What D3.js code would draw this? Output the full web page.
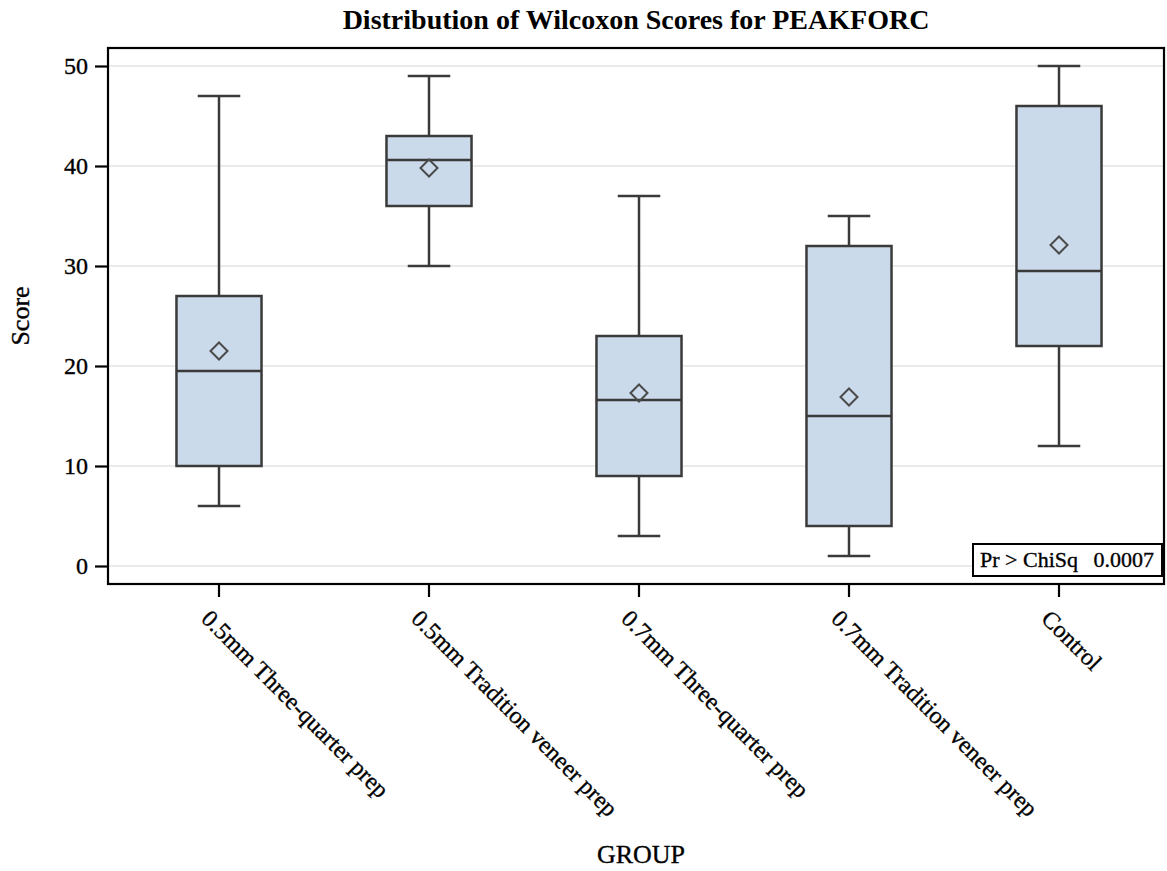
<!DOCTYPE html>
<html>
<head>
<meta charset="utf-8">
<script src="https://cdn.jsdelivr.net/npm/d3@7"></script>
<style>
  html, body { margin: 0; padding: 0; background: #fff; }
  svg { display: block; font-family: "Liberation Serif", "Times New Roman", serif; }
  .t { stroke: #000; stroke-width: 0.35px; }
</style>
</head>
<body>
<svg id="chart" width="1167" height="871"></svg>
<script>
// Wilcoxon score summaries per group
const groups = [
  "0.5mm Three-quarter prep",
  "0.5mm Tradition veneer prep",
  "0.7mm Three-quarter prep",
  "0.7mm Tradition veneer prep",
  "Control"
];
const whiskerLow  = [6, 30, 3, 1, 12];
const q1          = [10, 36, 9, 4, 22];
const median      = [19.5, 40.6, 16.6, 15, 29.5];
const q3          = [27, 43, 23, 32, 46];
const whiskerHigh = [47, 49, 37, 35, 50];
const mean        = [21.5, 39.8, 17.3, 16.9, 32.1];
const yTicks = [0, 10, 20, 30, 40, 50];
const pLabel = "Pr > ChiSq";
const pValue = "0.0007";

const svg = d3.select("#chart");

// plot wall
const wall = { left: 108, right: 1164, top: 48, bottom: 584 };

const x = d3.scaleBand().domain(groups).range([114, 1164]).padding(0);
const y = d3.scaleLinear().domain([-1.8, 51.8]).range([wall.bottom, wall.top]);

const boxW = x.bandwidth() * 0.405;
const capW = boxW * 0.5;
const ink = "#3a3a3a";

// title
svg.append("text")
  .attr("x", 636).attr("y", 29)
  .attr("text-anchor", "middle")
  .attr("font-size", 28).attr("font-weight", "bold")
  .attr("fill", "#000")
  .text("Distribution of Wilcoxon Scores for PEAKFORC");

// horizontal grid lines
svg.append("g").selectAll("line").data(yTicks).join("line")
  .attr("x1", wall.left).attr("x2", wall.right)
  .attr("y1", d => y(d)).attr("y2", d => y(d))
  .attr("stroke", "#ebebeb").attr("stroke-width", 2);

// boxes
const rows = groups.map((g, i) => ({
  g, lo: whiskerLow[i], q1: q1[i], med: median[i], q3: q3[i], hi: whiskerHigh[i], mean: mean[i]
}));
const bx = svg.append("g").selectAll("g").data(rows).join("g")
  .attr("transform", d => `translate(${x(d.g) + x.bandwidth() / 2},0)`);

// whiskers
bx.append("line").attr("x1", 0).attr("x2", 0)
  .attr("y1", d => y(d.q3)).attr("y2", d => y(d.hi))
  .attr("stroke", ink).attr("stroke-width", 2.5);
bx.append("line").attr("x1", 0).attr("x2", 0)
  .attr("y1", d => y(d.q1)).attr("y2", d => y(d.lo))
  .attr("stroke", ink).attr("stroke-width", 2.5);
bx.append("line").attr("x1", -capW / 2).attr("x2", capW / 2)
  .attr("y1", d => y(d.hi)).attr("y2", d => y(d.hi))
  .attr("stroke", ink).attr("stroke-width", 2.5);
bx.append("line").attr("x1", -capW / 2).attr("x2", capW / 2)
  .attr("y1", d => y(d.lo)).attr("y2", d => y(d.lo))
  .attr("stroke", ink).attr("stroke-width", 2.5);

// interquartile box
bx.append("rect")
  .attr("x", -boxW / 2).attr("width", boxW)
  .attr("y", d => y(d.q3)).attr("height", d => y(d.q1) - y(d.q3))
  .attr("fill", "#cbdaea").attr("stroke", ink).attr("stroke-width", 2.5);

// median
bx.append("line").attr("x1", -boxW / 2).attr("x2", boxW / 2)
  .attr("y1", d => y(d.med)).attr("y2", d => y(d.med))
  .attr("stroke", ink).attr("stroke-width", 2.5);

// mean marker (diamond)
const dm = 8.5;
bx.append("path")
  .attr("d", d => {
    const cy = y(d.mean);
    return `M0,${cy - dm}L${dm},${cy}L0,${cy + dm}L${-dm},${cy}Z`;
  })
  .attr("fill", "none").attr("stroke", "#4a4a4a").attr("stroke-width", 2);

// wall frame
svg.append("rect")
  .attr("x", wall.left).attr("y", wall.top)
  .attr("width", wall.right - wall.left).attr("height", wall.bottom - wall.top)
  .attr("fill", "none").attr("stroke", "#000").attr("stroke-width", 2.2);

// y axis
const yAxis = svg.append("g")
  .attr("transform", `translate(${wall.left},0)`)
  .call(d3.axisLeft(y).tickValues(yTicks).tickSize(13).tickPadding(7).tickFormat(d3.format("d")));
yAxis.select(".domain").remove();
yAxis.selectAll(".tick line").attr("stroke", "#000").attr("stroke-width", 2.2);
yAxis.selectAll(".tick text")
  .attr("class", "t")
  .attr("font-family", "Liberation Serif, serif").attr("font-size", 24).attr("fill", "#000");

// x axis
const xAxis = svg.append("g")
  .attr("transform", `translate(0,${wall.bottom})`)
  .call(d3.axisBottom(x).tickSize(13).tickPadding(0));
xAxis.select(".domain").remove();
xAxis.selectAll(".tick line").attr("stroke", "#000").attr("stroke-width", 2.2);
xAxis.selectAll(".tick text")
  .attr("class", "t")
  .attr("font-family", "Liberation Serif, serif").attr("font-size", 24).attr("fill", "#000")
  .attr("text-anchor", "start")
  .attr("dy", null).attr("y", null)
  .attr("transform", "translate(-19,36) rotate(45)");

// axis labels
svg.append("text")
  .attr("class", "t")
  .attr("transform", "translate(29,316) rotate(-90)")
  .attr("text-anchor", "middle")
  .attr("font-size", 26).attr("fill", "#000")
  .text("Score");
svg.append("text")
  .attr("class", "t")
  .attr("x", 641).attr("y", 863)
  .attr("text-anchor", "middle")
  .attr("font-size", 26).attr("fill", "#000")
  .text("GROUP");

// test statistic inset
const inset = svg.append("g");
inset.append("rect")
  .attr("x", 973).attr("y", 544).attr("width", 189).attr("height", 32)
  .attr("fill", "#fff").attr("stroke", "#000").attr("stroke-width", 2);
inset.append("text")
  .attr("class", "t")
  .attr("x", 980).attr("y", 567)
  .attr("font-size", 22).attr("fill", "#000")
  .text(pLabel);
inset.append("text")
  .attr("class", "t")
  .attr("x", 1154).attr("y", 567)
  .attr("text-anchor", "end")
  .attr("font-size", 22).attr("fill", "#000")
  .text(pValue);
</script>
</body>
</html>
